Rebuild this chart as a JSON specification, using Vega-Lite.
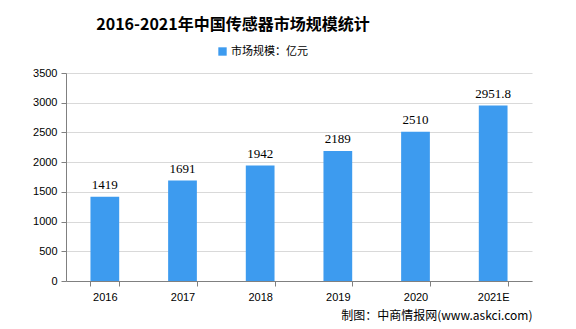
{
  "$schema": "https://vega.github.io/schema/vega-lite/v6.json",
  "width": 466,
  "height": 208,
  "autosize": {"type": "none"},
  "padding": {"left": 66, "top": 73, "right": 44, "bottom": 48},
  "background": "white",
  "title": {
    "text": "2016-2021年中国传感器市场规模统计",
    "anchor": "middle",
    "dx": -66,
    "offset": 13,
    "font": "Noto Sans CJK SC",
    "fontSize": 16,
    "fontWeight": "bold",
    "color": "#000000"
  },
  "data": {
    "values": [
      {"year": "2016", "value": 1419, "series": "市场规模：亿元"},
      {"year": "2017", "value": 1691, "series": "市场规模：亿元"},
      {"year": "2018", "value": 1942, "series": "市场规模：亿元"},
      {"year": "2019", "value": 2189, "series": "市场规模：亿元"},
      {"year": "2020", "value": 2510, "series": "市场规模：亿元"},
      {"year": "2021E", "value": 2951.8, "series": "市场规模：亿元"}
    ]
  },
  "config": {
    "view": {"stroke": null},
    "font": "Noto Sans CJK SC"
  },
  "encoding": {
    "x": {
      "field": "year", "type": "nominal", "sort": null,
      "scale": {"paddingInner": 0.63, "paddingOuter": 0.315},
      "axis": {
        "title": "制图：中商情报网(www.askci.com)",
        "titleAlign": "right", "titleAnchor": "end", "titleX": 466, "titleY": 34,
        "titleFontSize": 12, "titleFontWeight": "normal", "titleColor": "#000000",
        "titleBaseline": "middle",
        "labelAngle": 0, "labelFontSize": 11, "labelColor": "#000000",
        "labelFont": "Liberation Sans", "labelPadding": 5,
        "tickBand": "extent", "tickSize": 5, "tickColor": "#808080",
        "domainColor": "#808080"
      }
    },
    "y": {
      "field": "value", "type": "quantitative",
      "scale": {"domain": [0, 3500]},
      "axis": {
        "title": null, "values": [0, 500, 1000, 1500, 2000, 2500, 3000, 3500],
        "format": "d", "labelOverlap": false,
        "labelFontSize": 11, "labelColor": "#000000", "labelFont": "Liberation Sans",
        "tickSize": 5, "tickColor": "#808080", "domainColor": "#808080",
        "gridColor": "#D9D9D9", "labelPadding": 4
      }
    }
  },
  "layer": [
    {
      "mark": {"type": "bar", "color": "#3D9BEF"},
      "encoding": {
        "color": {
          "field": "series", "type": "nominal",
          "scale": {"range": ["#3D9BEF"]},
          "legend": {
            "title": null, "orient": "none", "legendX": 151, "legendY": -27,
            "symbolType": "square", "symbolSize": 70, "labelFontSize": 11,
            "labelColor": "#000000", "symbolStrokeWidth": 0, "labelOffset": 3
          }
        }
      }
    },
    {
      "mark": {"type": "text", "dy": -12, "fontSize": 13, "font": "Liberation Serif", "color": "#000000"},
      "encoding": {
        "text": {"field": "value", "type": "quantitative"}
      }
    }
  ]
}
